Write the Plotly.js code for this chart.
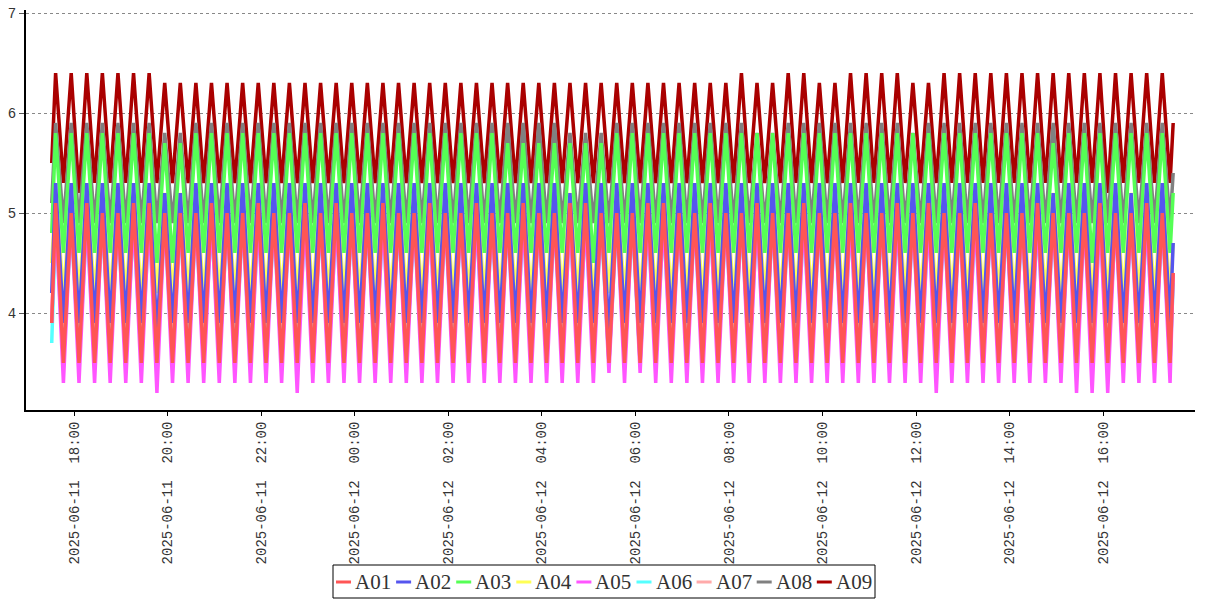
<!DOCTYPE html>
<html>
<head>
<meta charset="utf-8">
<script src="https://cdn.plot.ly/plotly-3.0.1.min.js"></script>
<style>html,body{margin:0;padding:0;background:#fff;}#chart{width:1207px;height:600px;}</style>
</head>
<body>
<div id="chart"></div>
<script>
// Series names and colours
const seriesNames = ['A01','A02','A03','A04','A05','A06','A07','A08','A09'];
const seriesColors = ['#ff5555','#5555ee','#55ff55','#ffff55','#ff55ff','#55ffff','#ffaaaa','#808080','#aa0000'];

// Sample times: start point, then alternating peak / trough every 10 minutes, then end point
const startTime = '2025-06-11 17:31';
const firstPeak = '2025-06-11 17:36';
const endTime = '2025-06-12 17:30';
const stepMinutes = 10;
const nExtrema = 144;

// Values (start, then peak/trough pairs k=0..71, then end)
const A01 = [3.9,
 5.1,3.5,5.0,3.5,5.1,3.5,5.0,3.5,5.0,3.5,5.1,3.5,5.1,3.5,5.0,3.5,5.0,3.5,5.0,3.5,
 5.1,3.5,5.0,3.5,5.0,3.5,5.1,3.5,5.0,3.5,5.0,3.5,5.1,3.5,5.0,3.5,5.1,3.5,5.0,3.5,
 5.0,3.5,5.1,3.5,5.0,3.5,5.0,3.5,5.1,3.5,5.0,3.5,5.0,3.5,5.1,3.5,5.0,3.5,5.0,3.5,
 5.1,3.5,5.0,3.5,5.0,3.5,5.1,3.5,5.1,3.5,5.0,3.5,5.0,3.5,5.0,3.5,5.1,3.5,5.1,3.5,
 5.0,3.5,5.0,3.5,5.1,3.5,5.0,3.5,5.0,3.5,5.1,3.5,5.0,3.5,5.0,3.5,5.1,3.5,5.0,3.5,
 5.0,3.5,5.1,3.5,5.0,3.5,5.0,3.5,5.1,3.5,5.0,3.5,5.1,3.5,5.0,3.5,5.0,3.5,5.1,3.5,
 5.0,3.5,5.0,3.5,5.0,3.5,5.1,3.5,5.0,3.5,5.0,3.5,5.0,3.5,5.1,3.5,5.0,3.5,5.0,3.5,
 5.1,3.5,5.0,3.5,
 4.4];
const A02 = [4.2,
 5.3,3.9,5.3,3.9,5.3,3.9,5.3,3.9,5.3,3.9,5.3,3.9,5.3,3.8,5.2,3.9,5.2,3.9,5.3,3.9,
 5.3,3.9,5.3,3.9,5.3,3.9,5.3,3.9,5.3,3.9,5.3,3.9,5.3,3.9,5.3,3.9,5.3,3.9,5.3,3.9,
 5.3,3.9,5.3,3.9,5.3,3.9,5.3,3.9,5.3,3.9,5.3,3.9,5.3,3.9,5.3,3.9,5.3,3.9,5.3,3.9,
 5.3,3.9,5.3,3.9,5.3,3.9,5.2,3.9,5.3,3.9,5.3,3.8,5.3,3.9,5.3,3.9,5.3,3.9,5.3,3.9,
 5.3,3.9,5.3,3.9,5.3,3.9,5.3,3.9,5.3,3.9,5.3,3.9,5.3,3.9,5.3,3.9,5.3,3.9,5.3,3.9,
 5.3,3.9,5.3,3.9,5.3,3.9,5.3,3.9,5.3,3.9,5.3,3.9,5.3,3.9,5.3,3.9,5.3,3.9,5.3,3.9,
 5.3,3.9,5.3,3.9,5.3,3.9,5.3,3.9,5.2,3.9,5.3,3.9,5.3,3.9,5.3,3.9,5.3,3.9,5.2,3.9,
 5.3,3.9,5.3,3.9,
 4.7];
const A03 = [4.8,
 5.8,4.6,5.8,4.6,5.8,4.6,5.8,4.6,5.8,4.6,5.8,4.6,5.8,4.5,5.7,4.5,5.7,4.6,5.8,4.6,
 5.8,4.6,5.8,4.6,5.8,4.6,5.8,4.6,5.8,4.6,5.8,4.6,5.8,4.6,5.8,4.6,5.8,4.6,5.8,4.6,
 5.8,4.6,5.8,4.6,5.8,4.6,5.8,4.6,5.8,4.6,5.8,4.6,5.8,4.6,5.8,4.6,5.8,4.6,5.7,4.6,
 5.7,4.6,5.7,4.6,5.7,4.6,5.7,4.6,5.7,4.5,5.7,4.6,5.8,4.6,5.8,4.6,5.8,4.6,5.8,4.6,
 5.8,4.6,5.8,4.6,5.8,4.6,5.8,4.6,5.8,4.6,5.8,4.6,5.8,4.6,5.8,4.6,5.8,4.6,5.8,4.6,
 5.8,4.6,5.8,4.6,5.8,4.6,5.8,4.6,5.8,4.6,5.8,4.6,5.8,4.6,5.8,4.6,5.8,4.6,5.8,4.6,
 5.8,4.6,5.8,4.6,5.8,4.6,5.8,4.6,5.7,4.6,5.8,4.6,5.8,4.5,5.8,4.6,5.8,4.6,5.8,4.6,
 5.8,4.6,5.8,4.6,
 5.2];
const A04 = [4.5,
 5.2,4.2,5.2,4.2,5.2,4.2,5.2,4.2,5.2,4.2,5.2,4.2,5.2,4.2,5.2,4.2,5.2,4.2,5.2,4.2,
 5.2,4.2,5.2,4.2,5.2,4.2,5.2,4.2,5.2,4.2,5.2,4.2,5.2,4.2,5.2,4.2,5.2,4.2,5.2,4.2,
 5.2,4.2,5.2,4.2,5.2,4.2,5.2,4.2,5.2,4.2,5.2,4.2,5.2,4.2,5.2,4.2,5.2,4.2,5.2,4.2,
 5.2,4.2,5.2,4.2,5.2,4.2,5.2,4.2,5.2,4.2,5.2,4.2,5.2,4.2,5.2,4.2,5.2,4.2,5.2,4.2,
 5.2,4.2,5.2,4.2,5.2,4.2,5.2,4.2,5.2,4.2,5.2,4.2,5.2,4.2,5.2,4.2,5.2,4.2,5.2,4.2,
 5.2,4.2,5.2,4.2,5.2,4.2,5.2,4.2,5.2,4.2,5.2,4.2,5.2,4.2,5.2,4.2,5.2,4.2,5.2,4.2,
 5.2,4.2,5.2,4.2,5.2,4.2,5.2,4.2,5.2,4.2,5.2,4.2,5.2,4.2,5.2,4.2,5.2,4.2,5.2,4.2,
 5.2,4.2,5.2,4.2,
 4.7];
const A05 = [3.9,
 5.0,3.3,5.0,3.3,5.0,3.3,5.0,3.3,5.0,3.3,5.0,3.3,5.0,3.2,5.0,3.3,5.0,3.3,5.0,3.3,
 5.0,3.3,5.0,3.3,5.0,3.3,5.0,3.3,5.0,3.3,5.0,3.2,5.0,3.3,5.0,3.3,5.0,3.3,5.0,3.3,
 5.0,3.3,5.0,3.3,5.0,3.3,5.0,3.3,5.0,3.3,5.0,3.3,5.0,3.3,5.0,3.3,5.0,3.3,5.0,3.3,
 5.0,3.3,5.0,3.3,5.0,3.3,5.0,3.3,5.0,3.3,5.0,3.4,5.0,3.3,5.0,3.4,5.0,3.3,5.0,3.3,
 5.0,3.3,5.0,3.3,5.0,3.3,5.0,3.3,5.0,3.3,5.0,3.3,5.0,3.3,5.0,3.3,5.0,3.3,5.0,3.3,
 5.0,3.3,5.0,3.3,5.0,3.3,5.0,3.3,5.0,3.3,5.0,3.3,5.0,3.2,5.0,3.3,5.0,3.3,5.0,3.3,
 5.0,3.3,5.0,3.3,5.0,3.3,5.0,3.3,5.0,3.3,5.0,3.2,5.0,3.2,5.0,3.2,5.0,3.3,5.0,3.3,
 5.0,3.3,5.0,3.3,
 4.4];
const A06 = [3.7,
 4.9,3.5,4.9,3.5,4.9,3.5,4.9,3.5,4.9,3.5,4.9,3.5,4.9,3.5,4.9,3.5,4.9,3.5,4.9,3.5,
 4.9,3.5,4.9,3.5,4.9,3.5,4.9,3.5,4.9,3.5,4.9,3.5,4.9,3.5,4.9,3.5,4.9,3.5,4.9,3.5,
 4.9,3.5,4.9,3.5,4.9,3.5,4.9,3.5,4.9,3.5,4.9,3.5,4.9,3.5,4.9,3.5,4.9,3.5,4.9,3.5,
 4.9,3.5,4.9,3.5,4.9,3.5,4.9,3.5,4.9,3.5,4.9,3.5,4.9,3.5,4.9,3.5,4.9,3.5,4.9,3.5,
 4.9,3.5,4.9,3.5,4.9,3.5,4.9,3.5,4.9,3.5,4.9,3.5,4.9,3.5,4.9,3.5,4.9,3.5,4.9,3.5,
 4.9,3.5,4.9,3.5,4.9,3.5,4.9,3.5,4.9,3.5,4.9,3.5,4.9,3.5,4.9,3.5,4.9,3.5,4.9,3.5,
 4.9,3.5,4.9,3.5,4.9,3.5,4.9,3.5,4.9,3.5,4.9,3.5,4.9,3.5,4.9,3.5,4.9,3.5,4.9,3.5,
 4.9,3.5,4.9,3.5,
 4.3];
const A07 = [3.9,
 5.0,3.6,5.0,3.6,5.0,3.6,5.0,3.6,5.0,3.6,5.0,3.6,5.0,3.6,5.0,3.6,5.0,3.6,5.0,3.6,
 5.0,3.6,5.0,3.6,5.0,3.6,5.0,3.6,5.0,3.6,5.0,3.6,5.0,3.6,5.0,3.6,5.0,3.6,5.0,3.6,
 5.0,3.6,5.0,3.6,5.0,3.6,5.0,3.6,5.0,3.6,5.0,3.6,5.0,3.6,5.0,3.6,5.0,3.6,5.0,3.6,
 5.0,3.6,5.0,3.6,5.0,3.6,5.0,3.6,5.0,3.6,5.0,3.6,5.0,3.6,5.0,3.6,5.0,3.6,5.0,3.6,
 5.0,3.6,5.0,3.6,5.0,3.6,5.0,3.6,5.0,3.6,5.0,3.6,5.0,3.6,5.0,3.6,5.0,3.6,5.0,3.6,
 5.0,3.6,5.0,3.6,5.0,3.6,5.0,3.6,5.0,3.6,5.0,3.6,5.0,3.6,5.0,3.6,5.0,3.6,5.0,3.6,
 5.0,3.6,5.0,3.6,5.0,3.6,5.0,3.6,5.0,3.6,5.0,3.6,5.0,3.6,5.0,3.6,5.0,3.6,5.0,3.6,
 5.0,3.6,5.0,3.6,
 4.4];
const A08 = [5.1,
 5.9,4.9,5.9,4.9,5.9,4.9,5.9,4.9,5.9,4.9,5.9,4.9,5.9,4.9,5.8,4.9,5.8,4.9,5.9,4.9,
 5.9,4.9,5.9,4.9,5.9,4.9,5.9,4.9,5.9,4.9,5.9,4.9,5.9,4.9,5.9,4.9,5.9,4.9,5.9,4.9,
 5.9,4.9,5.9,4.9,5.9,4.9,5.9,4.9,5.9,4.9,5.9,4.9,5.9,4.9,5.9,4.9,5.9,4.9,5.9,4.9,
 5.9,4.9,5.9,4.9,5.9,4.9,5.8,4.9,5.8,4.9,5.8,4.9,5.9,4.9,5.9,4.9,5.9,4.9,5.9,4.9,
 5.9,4.9,5.9,4.9,5.9,4.9,5.9,4.9,5.9,4.9,5.8,4.9,5.8,4.9,5.9,4.9,5.9,4.9,5.9,4.9,
 5.9,4.9,5.9,4.9,5.9,4.9,5.9,4.9,5.9,4.9,5.8,4.9,5.9,4.9,5.9,4.9,5.9,4.9,5.9,4.9,
 5.9,4.9,5.9,4.9,5.9,4.9,5.9,4.9,5.9,4.9,5.9,4.9,5.9,4.9,5.9,4.9,5.9,4.9,5.9,4.9,
 5.9,4.9,5.9,4.9,
 5.4];
const A09 = [5.5,
 6.4,5.3,6.4,5.2,6.4,5.3,6.4,5.3,6.4,5.3,6.4,5.3,6.4,5.3,6.3,5.3,6.3,5.3,6.3,5.3,
 6.3,5.3,6.3,5.3,6.3,5.3,6.3,5.3,6.3,5.3,6.3,5.3,6.3,5.3,6.3,5.3,6.3,5.3,6.3,5.3,
 6.3,5.3,6.3,5.3,6.3,5.3,6.3,5.3,6.3,5.3,6.3,5.3,6.3,5.3,6.3,5.3,6.3,5.3,6.3,5.3,
 6.3,5.3,6.3,5.3,6.3,5.3,6.3,5.3,6.3,5.3,6.3,5.3,6.3,5.3,6.3,5.3,6.3,5.3,6.3,5.3,
 6.3,5.3,6.3,5.3,6.3,5.3,6.3,5.3,6.4,5.3,6.3,5.3,6.3,5.3,6.4,5.3,6.4,5.3,6.3,5.3,
 6.3,5.3,6.4,5.3,6.4,5.3,6.4,5.3,6.4,5.3,6.3,5.3,6.3,5.3,6.4,5.3,6.4,5.3,6.4,5.3,
 6.4,5.3,6.4,5.3,6.4,5.3,6.4,5.3,6.4,5.3,6.4,5.3,6.4,5.3,6.4,5.2,6.4,5.3,6.4,5.3,
 6.4,5.3,6.4,5.3,
 5.9];

const seriesValues = [A01,A02,A03,A04,A05,A06,A07,A08,A09];

// Build time stamps
function toStamp(ms){ return new Date(ms).toISOString().slice(0,19).replace('T',' '); }
function parseStamp(s){ const p=s.split(/[- :]/).map(Number); return Date.UTC(p[0],p[1]-1,p[2],p[3],p[4]); }
const times = [startTime];
const t0 = parseStamp(firstPeak);
for (let i=0;i<nExtrema;i++) times.push(toStamp(t0 + i*stepMinutes*60000));
times.push(endTime);

// Traces: drawn A09 first so A01 ends on top
const traces = [];
for (let i=seriesNames.length-1;i>=0;i--){
  traces.push({
    type:'scatter', mode:'lines', name:seriesNames[i],
    x:times, y:seriesValues[i],
    line:{color:seriesColors[i], width:3.5},
    showlegend:false
  });
}

// Manual legend (layout decoration)
const PL=26, PT=10, PW=1169, PH=400;
const px = v => (v-PL)/PW;
const py = v => (PT+PH-v)/PH;
const shapes = [{type:'rect', xref:'paper', yref:'paper', x0:px(333), x1:px(875), y0:py(565), y1:py(598), line:{color:'#000', width:1}, fillcolor:'rgba(0,0,0,0)'}];
const annotations = [];
const pitch = 60.1;
for (let i=0;i<seriesNames.length;i++){
  const lx = 336 + pitch*i;
  shapes.push({type:'line', xref:'paper', yref:'paper', x0:px(lx), x1:px(lx+15), y0:py(582), y1:py(582), line:{color:seriesColors[i], width:3}});
  annotations.push({xref:'paper', yref:'paper', x:px(lx+17), y:py(582), xanchor:'left', yanchor:'middle', showarrow:false, text:seriesNames[i], font:{family:'Liberation Serif', size:21, color:'#333'}});
}

const tickFont = {family:'Liberation Mono, DejaVu Sans Mono, monospace', size:14, color:'#333'};
const layout = {
  width:1207, height:600,
  margin:{l:PL, r:12, t:PT, b:190},
  paper_bgcolor:'#fff', plot_bgcolor:'#fff',
  showlegend:false,
  xaxis:{
    type:'date',
    range:['2025-06-11 16:58','2025-06-12 17:58'],
    tick0:'2025-06-11 18:00', dtick:7200000,
    tickformat:'%Y-%m-%d\u00a0\u00a0%H:%M',
    tickangle:-90, ticks:'outside', ticklen:4, tickcolor:'#000', tickwidth:1,
    showline:true, linecolor:'#000', linewidth:2,
    showgrid:false, zeroline:false, tickfont:tickFont
  },
  yaxis:{
    range:[3.03,7.03], tickvals:[4,5,6,7], ticktext:['4','5','6','7'],
    ticks:'outside', ticklen:5, tickcolor:'#555', tickwidth:1,
    showline:true, linecolor:'#000', linewidth:2,
    showgrid:true, gridcolor:'#888', griddash:'dot', gridwidth:1,
    zeroline:false, tickfont:tickFont
  },
  shapes:shapes, annotations:annotations
};
Plotly.newPlot('chart', traces, layout, {staticPlot:true, displayModeBar:false});
</script>
</body>
</html>
